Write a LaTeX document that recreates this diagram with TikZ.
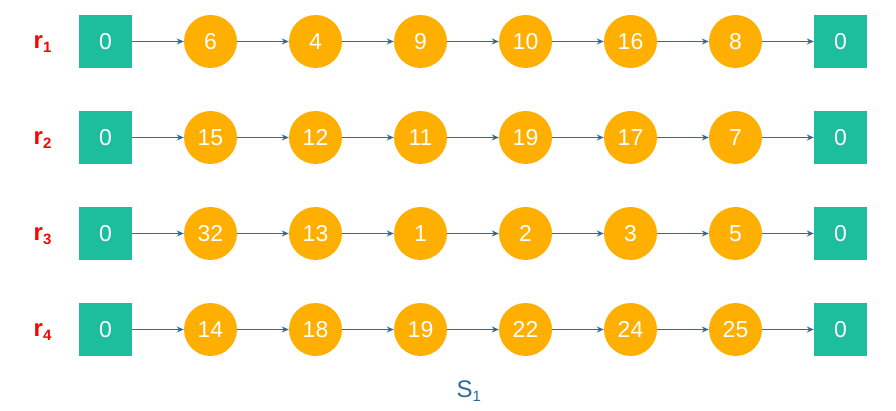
\documentclass[tikz,border=0pt]{standalone}
\usepackage{fontspec}
\setmainfont{Liberation Sans}
\usetikzlibrary{arrows.meta}
\definecolor{teal}{HTML}{1DBE9E}
\definecolor{orng}{HTML}{FFAF00}
\definecolor{arr}{HTML}{2E6A9C}
\definecolor{lbl}{HTML}{FF0000}
\newcommand{\subone}[1]{\raisebox{-4pt}{\fontsize{15}{15}\selectfont #1}}
\begin{document}
\begin{tikzpicture}[x=1pt,y=-1pt,
  sq/.style={fill=teal,minimum size=53pt,inner sep=0pt,text=white,font=\fontsize{23}{23}\selectfont},
  cir/.style={circle,fill=orng,minimum size=53pt,inner sep=0pt,text=white,font=\fontsize{23}{23}\selectfont},
  lnk/.style={draw=arr,line width=1pt,-{Stealth[length=7pt,width=6pt]}},
  rlab/.style={text=lbl,font=\fontsize{24}{24}\selectfont\bfseries,anchor=base west,inner sep=0pt}]
\useasboundingbox (0,0) rectangle (896,411);
\foreach \r/\y/\a/\b/\c/\d/\e/\f in {1/41.5/6/4/9/10/16/8, 2/137.5/15/12/11/19/17/7, 3/233.5/32/13/1/2/3/5, 4/329.5/14/18/19/22/24/25}{
  \node[rlab] (r\r) at (33.5,\y+7.5) {r\subone{\r}};
  \node[sq] (s\r) at (105.5,\y) {0};
  \node[cir] (c\r-1) at (210.5,\y) {\a};
  \node[cir] (c\r-2) at (315.5,\y) {\b};
  \node[cir] (c\r-3) at (420.5,\y) {\c};
  \node[cir] (c\r-4) at (525.5,\y) {\d};
  \node[cir] (c\r-5) at (630.5,\y) {\e};
  \node[cir] (c\r-6) at (735.5,\y) {\f};
  \node[sq] (e\r) at (840.5,\y) {0};
  \draw[lnk] (s\r) -- (c\r-1);
  \draw[lnk] (c\r-1) -- (c\r-2);
  \draw[lnk] (c\r-2) -- (c\r-3);
  \draw[lnk] (c\r-3) -- (c\r-4);
  \draw[lnk] (c\r-4) -- (c\r-5);
  \draw[lnk] (c\r-5) -- (c\r-6);
  \draw[lnk] (c\r-6) -- (e\r);
}
\node[text=arr,font=\fontsize{24}{24}\selectfont,anchor=base west,inner sep=0pt] (S) at (456.5,397) {S\subone{1}};
\end{tikzpicture}
\end{document}
